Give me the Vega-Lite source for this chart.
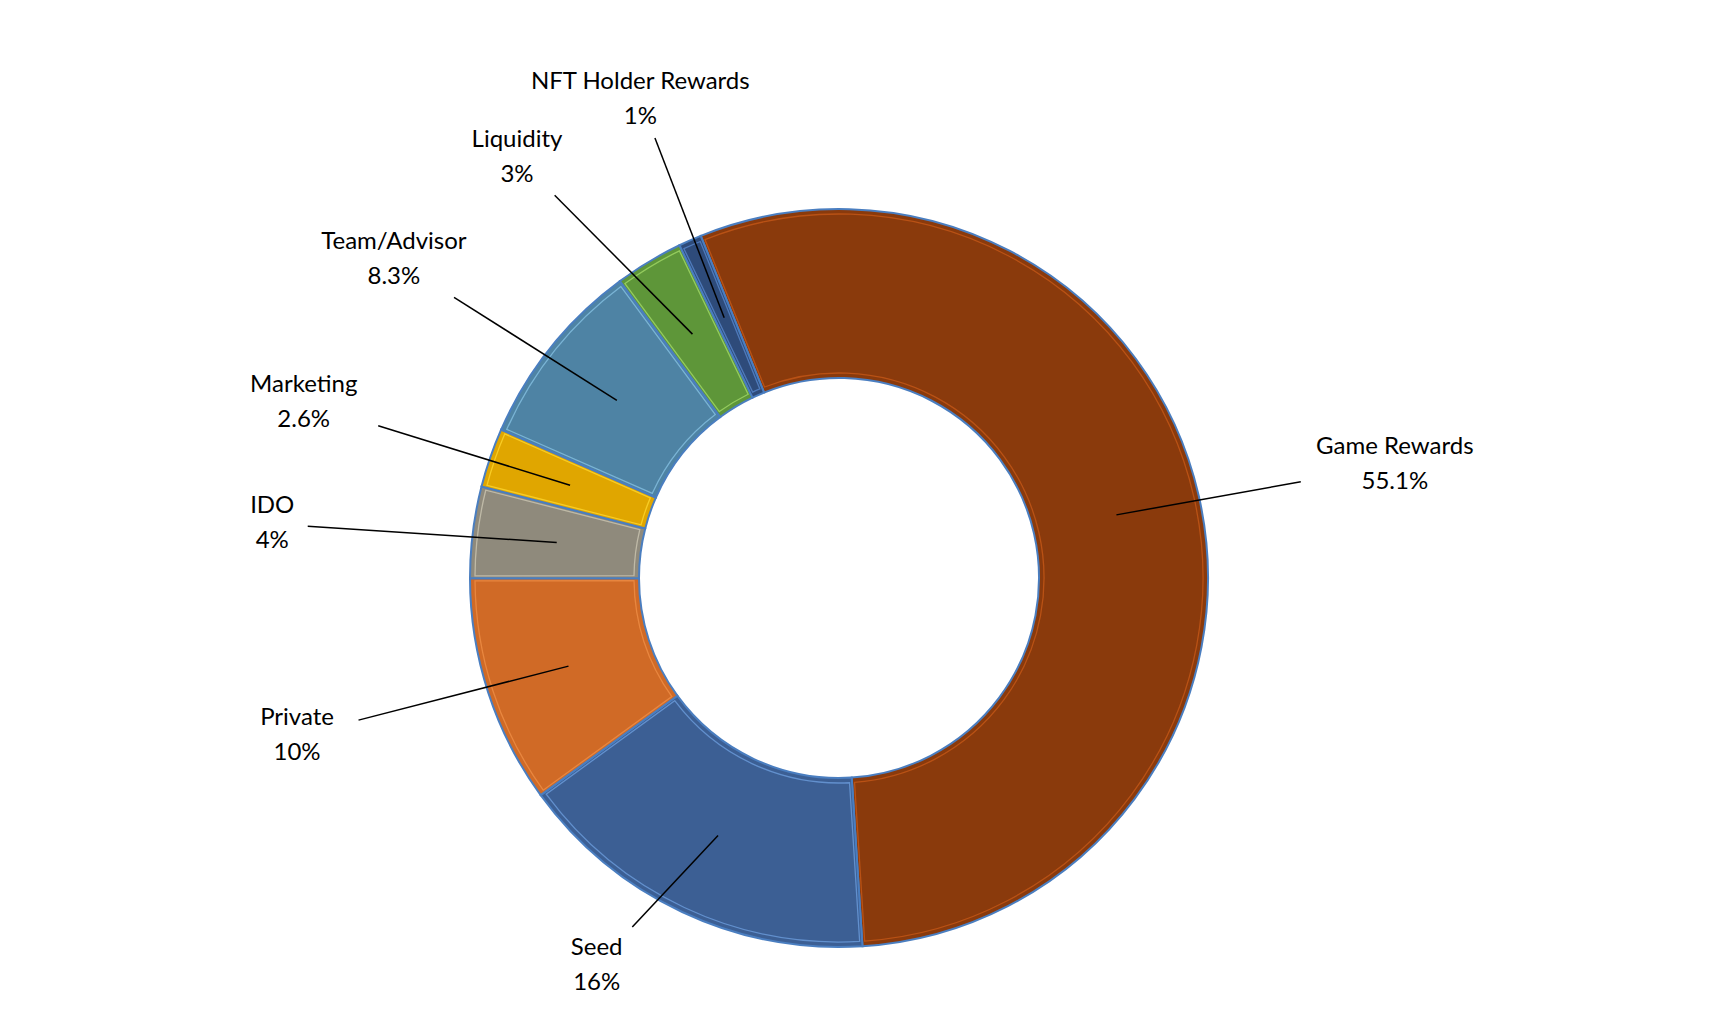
{
  "$schema": "https://vega.github.io/schema/vega-lite/v6.json",
  "width": 1678,
  "height": 880,
  "padding": {"left": 0, "top": 138, "right": 47, "bottom": 0},
  "autosize": {"type": "none"},
  "background": "white",
  "config": {"view": {"stroke": null}},
  "data": {
    "values": [
      {"idx": 0, "category": "Game Rewards", "value": 55.1},
      {"idx": 1, "category": "Seed", "value": 16},
      {"idx": 2, "category": "Private", "value": 10},
      {"idx": 3, "category": "IDO", "value": 4},
      {"idx": 4, "category": "Marketing", "value": 2.6},
      {"idx": 5, "category": "Team/Advisor", "value": 8.3},
      {"idx": 6, "category": "Liquidity", "value": 3},
      {"idx": 7, "category": "NFT Holder Rewards", "value": 1}
    ]
  },
  "transform": [
    {"joinaggregate": [{"op": "sum", "field": "value", "as": "total"}]},
    {"window": [{"op": "sum", "field": "value", "as": "cum"}], "sort": [{"field": "idx"}], "frame": [null, 0]},
    {"calculate": "-22*PI/180 + 2*PI*(datum.cum - datum.value/2)/datum.total", "as": "midA"},
    {"window": [{"op": "lag", "field": "midA", "as": "prevA"}, {"op": "lead", "field": "midA", "as": "nextA"}], "sort": [{"field": "idx"}], "frame": [null, null]},
    {"calculate": "datum.midA + (datum.prevA == null ? 0 : max(0, 0.2443 - (datum.midA - datum.prevA))/2) - (datum.nextA == null ? 0 : max(0, 0.2443 - (datum.nextA - datum.midA))/2)", "as": "labA"},
    {"calculate": "570*sin(datum.labA)", "as": "lx"},
    {"calculate": "clamp(-510*cos(datum.labA), -484, 387)", "as": "ly"},
    {"calculate": "datum.ly - 17.5", "as": "ty"},
    {"calculate": "284.5*sin(datum.midA)", "as": "sx"},
    {"calculate": "-284.5*cos(datum.midA)", "as": "sy"},
    {"calculate": "sqrt(pow(datum.sx-datum.lx,2)+pow(datum.sy-datum.ly,2))", "as": "len"},
    {"calculate": "(datum.sx-datum.lx)/datum.len", "as": "ux"},
    {"calculate": "(datum.sy-datum.ly)/datum.len", "as": "uy"},
    {"calculate": "min((length(datum.category)*6.5+16)/max(abs(datum.ux),0.001), 38/max(abs(datum.uy),0.001))", "as": "t"},
    {"calculate": "datum.lx + datum.t*datum.ux", "as": "ex"},
    {"calculate": "datum.ly + datum.t*datum.uy", "as": "ey"},
    {"calculate": "[datum.category, datum.value + '%']", "as": "lines"}
  ],
  "layer": [
    {
      "mark": {"type": "arc", "outerRadius": 369, "innerRadius": 200, "stroke": "#4A7EC0", "strokeWidth": 2},
      "encoding": {
        "theta": {"field": "value", "type": "quantitative", "stack": true, "scale": {"range": [-0.384, 5.899]}},
        "order": {"field": "idx", "type": "quantitative"},
        "color": {
          "field": "category", "type": "nominal", "legend": null,
          "scale": {
            "domain": ["Game Rewards", "Seed", "Private", "IDO", "Marketing", "Team/Advisor", "Liquidity", "NFT Holder Rewards"],
            "range": ["#8A3A0C", "#3C5F94", "#D06A26", "#8F8A7C", "#E0A600", "#4E83A4", "#5E9639", "#2E4B7A"]
          }
        }
      }
    },
    {
      "mark": {"type": "arc", "outerRadius": 364, "innerRadius": 205, "padAngle": 0.012, "fillOpacity": 0, "strokeWidth": 1.3, "strokeOpacity": 0.75},
      "encoding": {
        "theta": {"field": "value", "type": "quantitative", "stack": true, "scale": {"range": [-0.384, 5.899]}},
        "order": {"field": "idx", "type": "quantitative"},
        "stroke": {
          "field": "category", "type": "nominal", "legend": null,
          "scale": {
            "domain": ["Game Rewards", "Seed", "Private", "IDO", "Marketing", "Team/Advisor", "Liquidity", "NFT Holder Rewards"],
            "range": ["#C85A18", "#6FA0E0", "#F09048", "#CFC9B6", "#FFD830", "#88C4E6", "#A6DC6A", "#5A8AD0"]
          }
        }
      }
    },
    {
      "mark": {"type": "rule", "color": "black", "strokeWidth": 1.5},
      "encoding": {
        "x": {"field": "sx", "type": "quantitative", "axis": null, "scale": {"domain": [-839, 839]}},
        "y": {"field": "sy", "type": "quantitative", "axis": null, "scale": {"domain": [-440, 440], "reverse": true}},
        "x2": {"field": "ex"},
        "y2": {"field": "ey"}
      }
    },
    {
      "mark": {"type": "text", "font": "Lato", "fontSize": 24, "color": "#000000", "align": "center", "baseline": "middle", "lineHeight": 35},
      "encoding": {
        "x": {"field": "lx", "type": "quantitative", "axis": null, "scale": {"domain": [-839, 839]}},
        "y": {"field": "ty", "type": "quantitative", "axis": null, "scale": {"domain": [-440, 440], "reverse": true}},
        "text": {"field": "lines"}
      }
    }
  ]
}
